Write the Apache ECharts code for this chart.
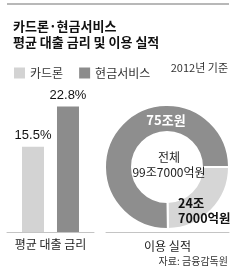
<!DOCTYPE html>
<html><head><meta charset="utf-8">
<script src="https://cdn.jsdelivr.net/npm/echarts@6/dist/echarts.min.js"></script>
<style>html,body{margin:0;padding:0;background:#fff}#c{width:240px;height:273px}</style>
</head><body><div id="c"></div>
<script>
const titleLines = ['카드론·현금서비스', '평균 대출 금리 및 이용 실적'];
const seriesNames = ['카드론', '현금서비스'];
const rateCategory = ['평균 대출 금리'];
const rateValues = [15.5, 22.8];
const usageCategory = ['이용 실적'];
const usageValues = [24.7, 75];
const usageLabels = ['24조\n7000억원', '75조원'];
const totalLabel = '전체\n99조7000억원';
const baseYear = '2012년 기준';
const source = '자료: 금융감독원';
const colors = ['#d3d3d3', '#8c8c8c'];

const KR = '"Noto Sans CJK KR", sans-serif';
const NUM = '"Liberation Sans Narrow", "Liberation Sans", sans-serif';

const chart = echarts.init(document.getElementById('c'), null, {renderer: 'canvas'});
chart.setOption({
  animation: false,
  title: {
    text: titleLines.join('\n'), left: 8, top: 13,
    textStyle: {fontFamily: KR, fontSize: 13, fontWeight: 'bold', color: '#111', lineHeight: 16}
  },
  legend: {
    data: seriesNames, left: 9, top: 62, icon: 'rect', itemWidth: 11, itemHeight: 11, itemGap: 16,
    textStyle: {fontFamily: KR, fontSize: 12, color: '#333'}, selectedMode: false
  },
  grid: [
    {left: 7, right: 146, top: 94.5, bottom: 41},
    {left: 106, right: 11, top: 94.5, bottom: 41}
  ],
  xAxis: [
    {type: 'category', gridIndex: 0, data: rateCategory, axisTick: {show: false},
     axisLine: {lineStyle: {color: '#c4c4c4', width: 1}},
     axisLabel: {fontFamily: KR, fontSize: 12, color: '#222', margin: 6}},
    {type: 'category', gridIndex: 1, data: usageCategory, axisTick: {show: false},
     axisLine: {lineStyle: {color: '#c4c4c4', width: 1}},
     axisLabel: {fontFamily: KR, fontSize: 12, color: '#222', margin: 8}}
  ],
  yAxis: [
    {type: 'value', gridIndex: 0, min: 0, max: 25, show: false},
    {type: 'value', gridIndex: 1, min: 0, max: 25, show: false}
  ],
  series: [
    {type: 'bar', name: seriesNames[0], data: [rateValues[0]], barWidth: 22, barGap: '59%',
     itemStyle: {color: colors[0]}, silent: true,
     label: {show: true, position: 'top', distance: 5, formatter: '{c}%', fontFamily: NUM, fontSize: 13, color: '#111'}},
    {type: 'bar', name: seriesNames[1], data: [rateValues[1]], barWidth: 22,
     itemStyle: {color: colors[1]}, silent: true,
     label: {show: true, position: 'top', distance: 5, formatter: '{c}%', fontFamily: NUM, fontSize: 13, color: '#111'}},
    {type: 'pie', name: usageCategory[0], center: [167, 167], radius: [35, 62], startAngle: 0, clockwise: true,
     silent: true, label: {show: false}, labelLine: {show: false}, z: 1,
     itemStyle: {borderColor: '#fff', borderWidth: 2},
     data: seriesNames.map((n, i) => ({name: n, value: usageValues[i], itemStyle: {color: i === 0 ? '#d6d6d6' : '#8e8e8e'}}))}
  ],
  graphic: {elements: [
    {type: 'line', shape: {x1: 7, y1: 4, x2: 229, y2: 4}, style: {stroke: '#a0a0a0', lineWidth: 1.5}},
    {type: 'text', x: 228, y: 68, style: {text: baseYear, fontFamily: KR, fontSize: 11, fill: '#333', align: 'right', verticalAlign: 'middle'}},
    {type: 'text', z: 100, x: 166, y: 120, style: {text: usageLabels[1], fontFamily: KR, fontSize: 13, fontWeight: 'bold', fill: '#fff', align: 'center', verticalAlign: 'middle'}},
    {type: 'text', z: 100, x: 169, y: 165, style: {text: totalLabel, fontFamily: KR, fontSize: 12, fill: '#222', align: 'center', verticalAlign: 'middle', lineHeight: 15}},
    {type: 'text', z: 100, x: 178, y: 210.5, style: {text: usageLabels[0], fontFamily: KR, fontSize: 12.5, fontWeight: 'bold', fill: '#111', align: 'left', verticalAlign: 'middle', lineHeight: 14.5}},
    {type: 'text', x: 228, y: 261, style: {text: source, fontFamily: KR, fontSize: 10, fill: '#333', align: 'right', verticalAlign: 'middle'}}
  ]}
});
</script></body></html>
